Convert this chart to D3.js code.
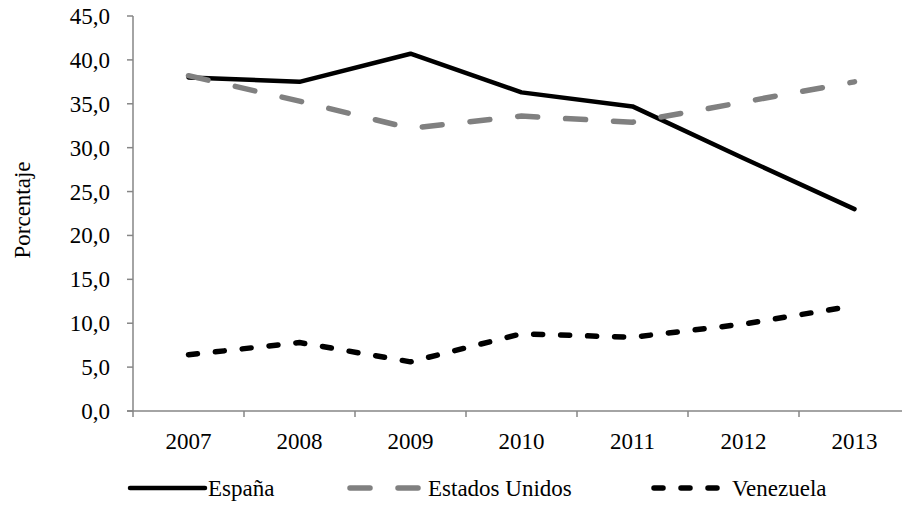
<!DOCTYPE html>
<html>
<head>
<meta charset="utf-8">
<script src="https://cdn.jsdelivr.net/npm/d3@7"></script>
<style>
  body { margin: 0; background: #fff; }
  text { font-family: "Liberation Serif", "Tinos", "Times New Roman", Times, "DejaVu Serif", serif; font-size: 23px; }
</style>
</head>
<body>
<div id="chart"></div>
<script>
// data
var years = ["2007", "2008", "2009", "2010", "2011", "2012", "2013"];
var espana = [38.0, 37.5, 40.7, 36.3, 34.7, 28.8, 23.0];
var estadosUnidos = [38.2, 35.3, 32.2, 33.6, 32.9, 35.2, 37.5];
var venezuela = [6.4, 7.8, 5.6, 8.8, 8.4, 9.9, 12.0];
var yTicks = [0, 5, 10, 15, 20, 25, 30, 35, 40, 45];

var series = [
	{name: "España", values: espana, color: "#000", width: 4.5, dash: null, legendX: 130},
	{name: "Estados Unidos", values: estadosUnidos, color: "#808080", width: 5.5, dash: "20,28", legendX: 350},
	{name: "Venezuela", values: venezuela, color: "#000", width: 5.5, dash: "9,18", legendX: 654}
];

(function()
{
	var W = 902, H = 516;
	var left = 133, right = 910, top = 16, bottom = 411;
	var axisColor = "#868686";

	var svg = d3.select("#chart").append("svg").attr("width", W).attr("height", H);

	var xBand = d3.scaleBand().domain(years).range([left, right]);
	var x = function(d) { return xBand(d) + xBand.bandwidth() / 2; };
	var y = d3.scaleLinear().domain([0, 45]).range([bottom, top]);

	// y axis
	var yAxis = svg.append("g");
	yAxis.append("line").attr("x1", left).attr("x2", left).attr("y1", top).attr("y2", bottom)
		.attr("stroke", axisColor).attr("stroke-width", 1.5);
	yAxis.selectAll("line.tick").data(yTicks).enter().append("line").attr("class", "tick")
		.attr("x1", left - 6).attr("x2", left).attr("y1", function(d) { return y(d); }).attr("y2", function(d) { return y(d); })
		.attr("stroke", axisColor).attr("stroke-width", 1.5);
	yAxis.selectAll("text").data(yTicks).enter().append("text")
		.attr("x", 110).attr("y", function(d) { return y(d); }).attr("dy", "0.35em")
		.attr("text-anchor", "end")
		.text(function(d) { return d.toFixed(1).replace(".", ","); });

	// x axis
	var xAxis = svg.append("g");
	xAxis.append("line").attr("x1", left - 6).attr("x2", right).attr("y1", bottom).attr("y2", bottom)
		.attr("stroke", axisColor).attr("stroke-width", 1.5);
	var bounds = years.map(function(d) { return xBand(d); }).concat([right]);
	xAxis.selectAll("line.tick").data(bounds).enter().append("line").attr("class", "tick")
		.attr("x1", function(d) { return d; }).attr("x2", function(d) { return d; })
		.attr("y1", bottom).attr("y2", bottom + 6)
		.attr("stroke", axisColor).attr("stroke-width", 1.5);
	xAxis.selectAll("text").data(years).enter().append("text")
		.attr("x", function(d) { return x(d); }).attr("y", 449)
		.attr("text-anchor", "middle")
		.text(function(d) { return d; });

	// y axis title
	svg.append("text").attr("transform", "translate(30,210) rotate(-90)")
		.attr("text-anchor", "middle").text("Porcentaje");

	// lines
	var line = d3.line()
		.x(function(d, i) { return x(years[i]); })
		.y(function(d) { return y(d); });

	series.forEach(function(s)
	{
		svg.append("path").datum(s.values).attr("d", line)
			.attr("fill", "none").attr("stroke", s.color).attr("stroke-width", s.width)
			.attr("stroke-dasharray", s.dash).attr("stroke-linecap", "round").attr("stroke-linejoin", "round");
	});

	// legend
	var legendY = 488;
	series.forEach(function(s)
	{
		svg.append("line").attr("x1", s.legendX).attr("x2", s.legendX + 75).attr("y1", legendY).attr("y2", legendY)
			.attr("stroke", s.color).attr("stroke-width", s.width)
			.attr("stroke-dasharray", s.dash).attr("stroke-linecap", "round");
		svg.append("text").attr("x", s.legendX + 78).attr("y", legendY).attr("dy", "0.35em")
			.text(s.name);
	});
})();
</script>
</body>
</html>
